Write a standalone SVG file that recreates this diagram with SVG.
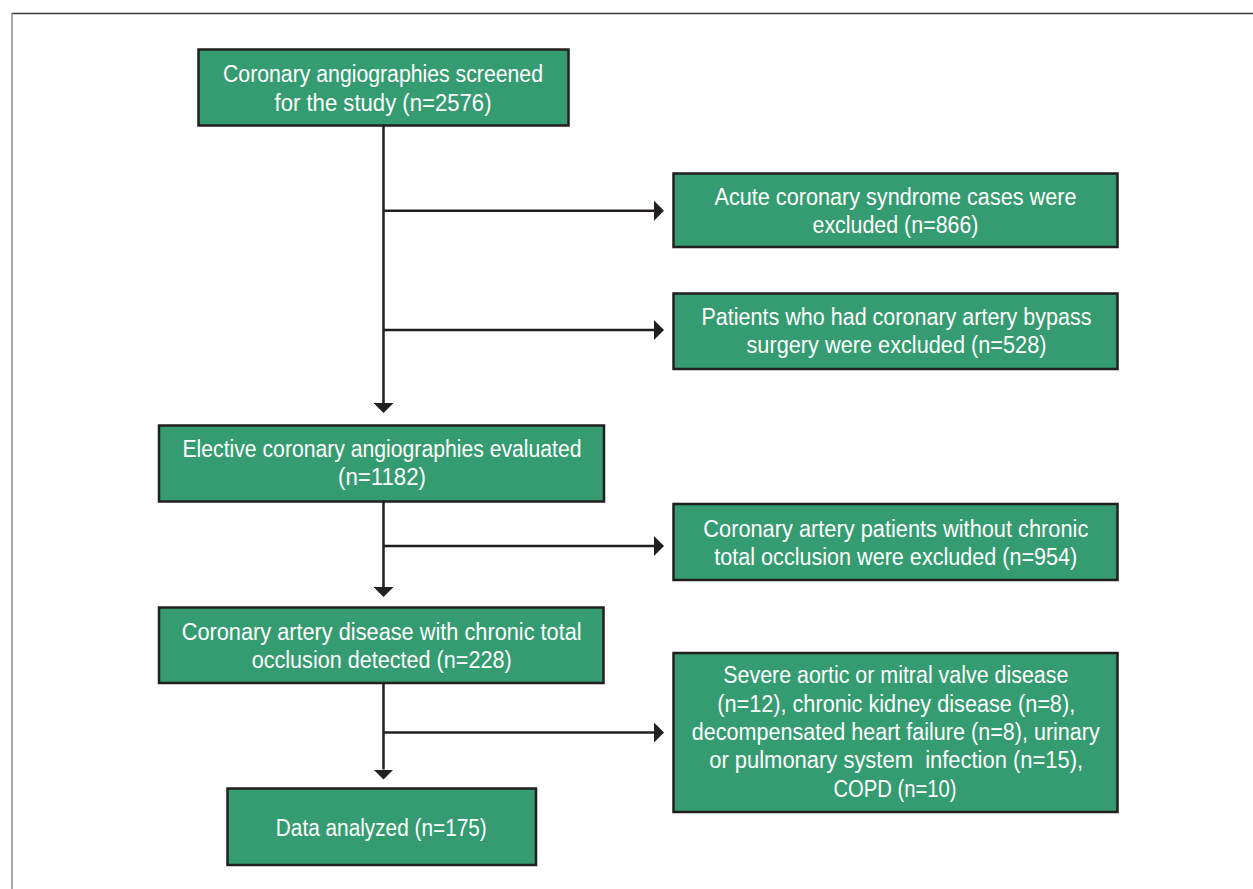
<svg xmlns="http://www.w3.org/2000/svg" width="1253" height="889" viewBox="0 0 1253 889">
<defs>
<style>
.box{fill:#349c70;stroke:#231f20;stroke-width:2.5}
.t{font-family:"Liberation Sans",Arial,sans-serif;font-size:23.5px;fill:#ffffff;text-anchor:middle}
.c{fill:none;stroke:#231f20;stroke-width:2.5}
</style>
<marker id="ah" markerUnits="userSpaceOnUse" viewBox="0 0 10 20" refX="0" refY="10" markerWidth="10" markerHeight="20" orient="auto">
<path d="M0,0 L10,10 L0,20 Z" fill="#231f20"/>
</marker>
</defs>
<rect width="1253" height="889" fill="#ffffff"/>
<g id="frame">
<line x1="12" y1="13.5" x2="1253" y2="13.5" stroke="#3a3a3a" stroke-width="1.5"/>
<line x1="12" y1="13" x2="12" y2="889" stroke="#8a8a8a" stroke-width="1.5"/>
</g>
<g id="connectors">
<path class="c" d="M383.5,126 V403" marker-end="url(#ah)"/>
<path class="c" d="M383.5,210.7 H654" marker-end="url(#ah)"/>
<path class="c" d="M383.5,330 H654" marker-end="url(#ah)"/>
<path class="c" d="M383.5,501 V587" marker-end="url(#ah)"/>
<path class="c" d="M383.5,546 H654" marker-end="url(#ah)"/>
<path class="c" d="M383.5,683 V769.5" marker-end="url(#ah)"/>
<path class="c" d="M383.5,732.5 H654" marker-end="url(#ah)"/>
</g>
<g id="n1">
<rect class="box" x="198.5" y="49.5" width="370" height="76"/>
<text class="t" x="383" y="82.3" textLength="320" lengthAdjust="spacingAndGlyphs">Coronary angiographies screened</text>
<text class="t" x="383" y="110.7" textLength="217" lengthAdjust="spacingAndGlyphs">for the study (n=2576)</text>
</g>
<g id="n2">
<rect class="box" x="673.5" y="173.5" width="444" height="73.5"/>
<text class="t" x="895.5" y="205" textLength="362" lengthAdjust="spacingAndGlyphs">Acute coronary syndrome cases were</text>
<text class="t" x="895.5" y="233.3" textLength="166" lengthAdjust="spacingAndGlyphs">excluded (n=866)</text>
</g>
<g id="n3">
<rect class="box" x="673.5" y="293.5" width="444" height="75.5"/>
<text class="t" x="896.5" y="325" textLength="390" lengthAdjust="spacingAndGlyphs">Patients who had coronary artery bypass</text>
<text class="t" x="896.5" y="353.3" textLength="300" lengthAdjust="spacingAndGlyphs">surgery were excluded (n=528)</text>
</g>
<g id="n4">
<rect class="box" x="159" y="425.5" width="445" height="76"/>
<text class="t" x="382" y="456.7" textLength="399" lengthAdjust="spacingAndGlyphs">Elective coronary angiographies evaluated</text>
<text class="t" x="382" y="484.5" textLength="88" lengthAdjust="spacingAndGlyphs">(n=1182)</text>
</g>
<g id="n5">
<rect class="box" x="673.5" y="504" width="444" height="76"/>
<text class="t" x="895.8" y="536.7" textLength="385" lengthAdjust="spacingAndGlyphs">Coronary artery patients without chronic</text>
<text class="t" x="895.8" y="565" textLength="363" lengthAdjust="spacingAndGlyphs">total occlusion were excluded (n=954)</text>
</g>
<g id="n6">
<rect class="box" x="159" y="607.5" width="444.5" height="75.5"/>
<text class="t" x="381.7" y="640" textLength="400" lengthAdjust="spacingAndGlyphs">Coronary artery disease with chronic total</text>
<text class="t" x="381.7" y="668.3" textLength="260" lengthAdjust="spacingAndGlyphs">occlusion detected (n=228)</text>
</g>
<g id="n7">
<rect class="box" x="673.5" y="653" width="444" height="159"/>
<text class="t" x="895.8" y="683.3" textLength="345" lengthAdjust="spacingAndGlyphs">Severe aortic or mitral valve disease</text>
<text class="t" x="896.2" y="711.7" textLength="358" lengthAdjust="spacingAndGlyphs">(n=12), chronic kidney disease (n=8),</text>
<text class="t" x="895.8" y="740" textLength="408" lengthAdjust="spacingAndGlyphs">decompensated heart failure (n=8), urinary</text>
<text class="t" x="896.2" y="768.3" textLength="374" lengthAdjust="spacingAndGlyphs" xml:space="preserve">or pulmonary system  infection (n=15),</text>
<text class="t" x="895" y="796.7" textLength="123" lengthAdjust="spacingAndGlyphs">COPD (n=10)</text>
</g>
<g id="n8">
<rect class="box" x="227.5" y="788.5" width="308.5" height="76.5"/>
<text class="t" x="381.3" y="835.7" textLength="211" lengthAdjust="spacingAndGlyphs">Data analyzed (n=175)</text>
</g>
</svg>
